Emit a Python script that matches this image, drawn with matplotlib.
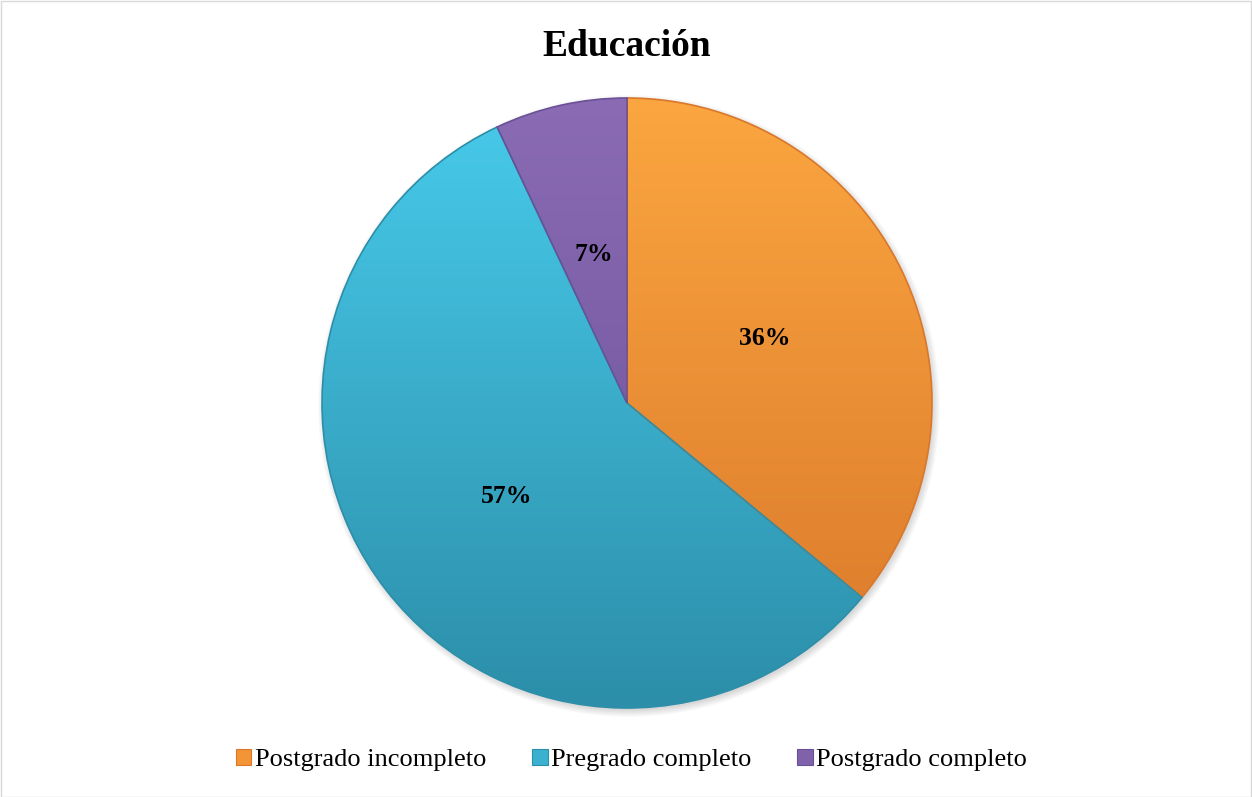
import numpy as np
import matplotlib
matplotlib.use("Agg")
import matplotlib.pyplot as plt
from matplotlib.patches import Rectangle
from matplotlib.colors import LinearSegmentedColormap

# Chart data
categories = ["Postgrado incompleto", "Pregrado completo", "Postgrado completo"]
values = [36, 57, 7]
labels = ["36%", "57%", "7%"]
title = "Educación"

# Top (light) and bottom (dark) tones for each slice
top_colors = ["#FBA640", "#48CBEB", "#8A6BB4"]
bottom_colors = ["#D9772A", "#2C8EA9", "#6A5096"]
mid_colors = ["#F39436", "#3BB1D0", "#8062AA"]

W, H = 1252, 797
fig = plt.figure(figsize=(W / 100, H / 100), dpi=100)
ax = fig.add_axes([0, 0, 1, 1])

cx, cy, r = 627, H - 403, 305

# Soft drop shadow under the pie
for k in range(8):
    sh = plt.Circle((cx + 2, cy - 3), r + 6 - k, color="#000000",
                    alpha=0.018, lw=0, zorder=0)
    ax.add_patch(sh)

wedges, texts, autotexts = ax.pie(
    values, center=(cx, cy), radius=r, startangle=90, counterclock=False,
    colors=mid_colors, labels=None, autopct=lambda p: "",
    pctdistance=0.5, wedgeprops=dict(linewidth=0), frame=True)
ax.set_xlim(0, W)
ax.set_ylim(0, H)
ax.set_aspect("equal")
ax.axis("off")

grad = np.linspace(0, 1, 256).reshape(-1, 1)
for w, tc, bc in zip(wedges, top_colors, bottom_colors):
    cmap = LinearSegmentedColormap.from_list("g", [bc, tc])
    im = ax.imshow(grad, cmap=cmap, origin="lower", aspect="auto",
                   extent=(cx - r, cx + r, cy - r, cy + r), zorder=2,
                   interpolation="bilinear")
    im.set_clip_path(w)
    w.set_facecolor("none")
    w.set_zorder(3)
    w.set_edgecolor(bc)
    w.set_linewidth(1.2)

for a, lab in zip(autotexts, labels):
    a.set_text(lab)
    a.set_fontfamily("Liberation Serif")
    a.set_fontweight("bold")
    a.set_fontsize(18.5)
    a.set_color("black")
    a.set_zorder(5)

ax.text(cx, H - 46, title, ha="center", va="center",
        fontfamily="Liberation Serif", fontweight="bold", fontsize=27)

# Legend
handles = [Rectangle((0, 0), 1, 1, facecolor=c, edgecolor=b, lw=0.8)
           for c, b in zip(mid_colors, bottom_colors)]
leg = fig.legend(handles, categories, loc="center", ncol=3,
                 bbox_to_anchor=(631.5 / W, 1 - 760 / H), frameon=False,
                 prop={"family": "Liberation Serif", "size": 19},
                 handlelength=0.6, handleheight=0.6, handletextpad=0.15,
                 columnspacing=1.7, borderaxespad=0)

# Chart area border
fig.patches.append(Rectangle((0.5 / W, 0.5 / H), 1 - 1.5 / W, 1 - 1.5 / H,
                             transform=fig.transFigure, fill=False,
                             edgecolor="#D9D9D9", lw=1))

fig.savefig("out.png", dpi=100)
